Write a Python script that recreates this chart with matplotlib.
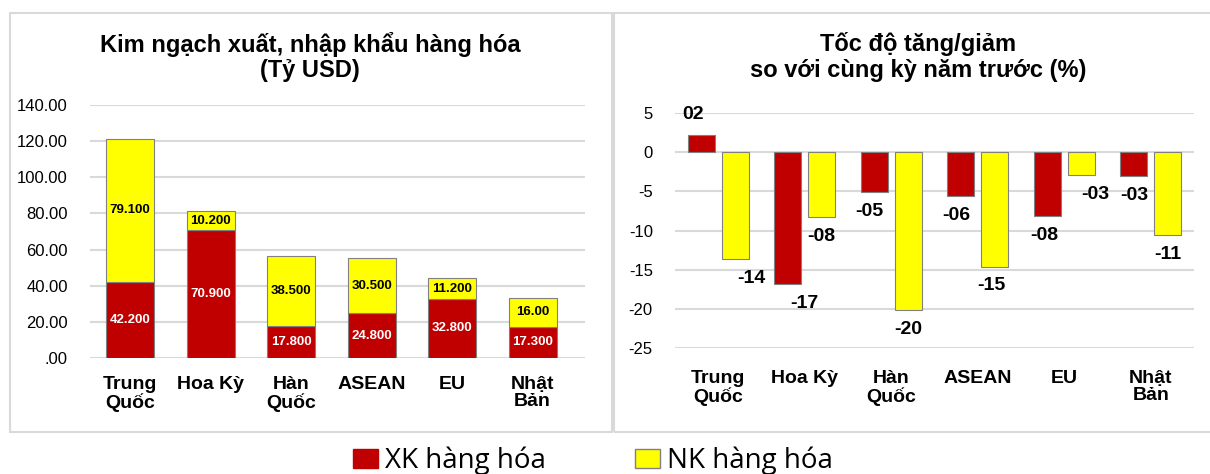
import numpy as np
import matplotlib.pyplot as plt
from matplotlib.patches import Rectangle, Patch

plt.rcParams['font.family'] = ['Liberation Sans', 'DejaVu Sans']
plt.rcParams['axes.unicode_minus'] = False

# ---- data ----
categories = ['Trung\nQuốc', 'Hoa Kỳ', 'Hàn\nQuốc', 'ASEAN', 'EU', 'Nhật\nBản']
xk_value = [42.2, 70.9, 17.8, 24.8, 32.8, 17.3]
nk_value = [79.1, 10.2, 38.5, 30.5, 11.2, 16.0]
xk_labels = ['42.200', '70.900', '17.800', '24.800', '32.800', '17.300']
nk_labels = ['79.100', '10.200', '38.500', '30.500', '11.200', '16.00']

xk_growth = [2.2, -16.8, -5.1, -5.6, -8.2, -3.0]
nk_growth = [-13.6, -8.3, -20.2, -14.6, -2.9, -10.6]
xk_growth_labels = ['02', '-17', '-05', '-06', '-08', '-03']
nk_growth_labels = ['-14', '-08', '-20', '-15', '-03', '-11']

left_yticks = [0, 20, 40, 60, 80, 100, 120, 140]
left_ytick_labels = ['.00', '20.00', '40.00', '60.00', '80.00', '100.00', '120.00', '140.00']
right_yticks = [-25, -20, -15, -10, -5, 0, 5]

RED = '#C00000'
YELLOW = '#FFFF00'
EDGE = '#808080'
GRID = '#D9D9D9'

W, H = 1210, 474
fig = plt.figure(figsize=(W / 100, H / 100), dpi=100)

# panel frames
fig.patches.append(Rectangle((10 / W, 1 - 432 / H), 602 / W, 419 / H, transform=fig.transFigure,
                             fill=False, edgecolor=GRID, linewidth=1.5))
fig.patches.append(Rectangle((614 / W, 1 - 432 / H), 600 / W, 419 / H, transform=fig.transFigure,
                             fill=False, edgecolor=GRID, linewidth=1.5))

x = np.arange(len(categories))

# ---- left: stacked values ----
ax1 = fig.add_axes([90 / W, 1 - 358 / H, 495 / W, 253 / H])
ax1.bar(x, xk_value, width=0.6, color=RED, edgecolor=EDGE, linewidth=0.8, zorder=3)
ax1.bar(x, nk_value, width=0.6, bottom=xk_value, color=YELLOW, edgecolor=EDGE, linewidth=0.8, zorder=3)
for i in range(len(categories)):
    ax1.text(x[i], xk_value[i] / 2, xk_labels[i], ha='center', va='center',
             color='white', fontsize=9.5, fontweight='bold', zorder=4)
    ax1.text(x[i], xk_value[i] + nk_value[i] / 2, nk_labels[i], ha='center', va='center',
             color='black', fontsize=9.5, fontweight='bold', zorder=4)
ax1.set_ylim(0, 140)
ax1.set_xlim(-0.5, len(categories) - 0.35)
ax1.set_yticks(left_yticks)
ax1.set_yticklabels(left_ytick_labels)
ax1.set_xticks(x)
ax1.set_xticklabels(categories, fontsize=14, fontweight='bold', linespacing=1.0)
ax1.tick_params(axis='y', length=0, pad=16, labelsize=12)
ax1.tick_params(axis='x', length=0, pad=13)
ax1.grid(axis='y', color=GRID, linewidth=1.5, zorder=0)
for s in ax1.spines.values():
    s.set_visible(False)
fig.text(310 / W, 1 - 57 / H, 'Kim ngạch xuất, nhập khẩu hàng hóa\n(Tỷ USD)',
         ha='center', va='center', fontsize=17, fontweight='bold', linespacing=1.15)

# ---- right: growth rates ----
ax2 = fig.add_axes([675 / W, 1 - 348 / H, 519 / W, 235 / H])
bw = 0.31
xr = x - bw / 2 - 0.04
xy_ = x + bw / 2 + 0.04
ax2.bar(xr, xk_growth, width=bw, color=RED, edgecolor=EDGE, linewidth=0.8, zorder=3)
ax2.bar(xy_, nk_growth, width=bw, color=YELLOW, edgecolor=EDGE, linewidth=0.8, zorder=3)
# manual nudges for a few labels, as in the original
xk_dx = [-6, 12, -4, -3, -2, 0]
nk_dx = [12, 0, 0, -2, 10, 0]
for i in range(len(categories)):
    v = xk_growth[i]
    ax2.annotate(xk_growth_labels[i], (xr[i], v), xytext=(xk_dx[i], 15 if v > 0 else -14),
                 textcoords='offset points', ha='center', va='center',
                 fontsize=14, fontweight='bold', zorder=4)
    v = nk_growth[i]
    ax2.annotate(nk_growth_labels[i], (xy_[i], v), xytext=(nk_dx[i], 15 if v > 0 else -14),
                 textcoords='offset points', ha='center', va='center',
                 fontsize=14, fontweight='bold', zorder=4)
ax2.set_ylim(-25, 5)
ax2.set_xlim(-0.5, len(categories) - 0.5)
ax2.set_yticks(right_yticks)
ax2.set_xticks(x)
ax2.set_xticklabels(categories, fontsize=14, fontweight='bold', linespacing=1.0)
ax2.tick_params(axis='y', length=0, pad=16, labelsize=12)
ax2.tick_params(axis='x', length=0, pad=16)
ax2.grid(axis='y', color=GRID, linewidth=1.5, zorder=0)
for s in ax2.spines.values():
    s.set_visible(False)
fig.text(918 / W, 1 - 57 / H, 'Tốc độ tăng/giảm\nso với cùng kỳ năm trước (%)',
         ha='center', va='center', fontsize=17, fontweight='bold', linespacing=1.15)

# ---- legend ----
handles = [Patch(facecolor=RED, edgecolor=RED, label='XK hàng hóa'),
           Patch(facecolor=YELLOW, edgecolor=EDGE, label='NK hàng hóa')]
fig.legend(handles=handles, loc='center', bbox_to_anchor=(0.490, 1 - 461 / H), ncol=2,
           frameon=False, prop={'family': ['Open Sans', 'DejaVu Sans'], 'size': 20},
           handlelength=0.9, handleheight=0.68, handletextpad=0.25, columnspacing=3.2,
           borderaxespad=0, borderpad=0)

fig.savefig('out.png', dpi=100)
